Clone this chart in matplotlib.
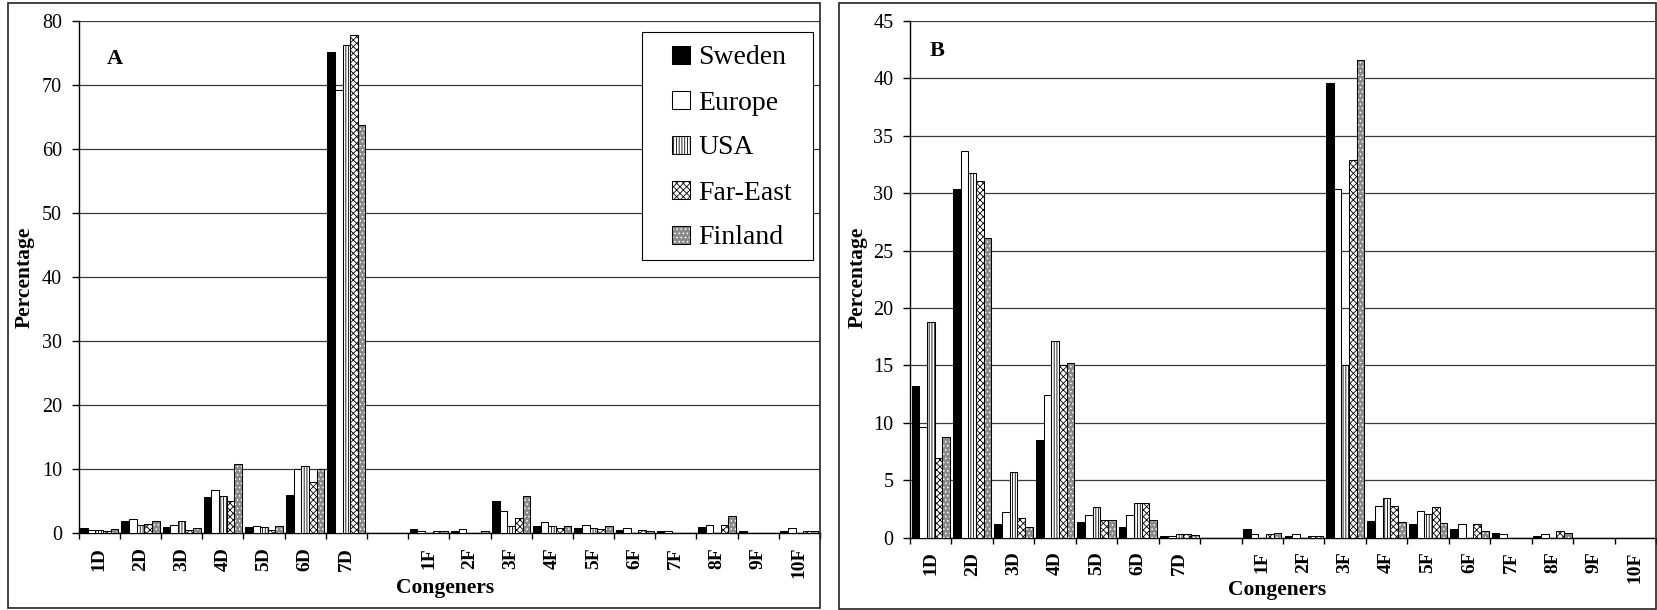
import matplotlib
matplotlib.use("Agg")
import matplotlib.pyplot as plt
import numpy as np
from matplotlib.patches import Rectangle, Patch

plt.rcParams["font.family"] = ["Liberation Serif", "DejaVu Serif"]
plt.rcParams["hatch.linewidth"] = 0.6

# ---- data -------------------------------------------------------------
dioxins = ["1D", "2D", "3D", "4D", "5D", "6D", "7D"]
furans = ["1F", "2F", "3F", "4F", "5F", "6F", "7F", "8F", "9F", "10F"]
regions = ["Sweden", "Europe", "USA", "Far-East", "Finland"]

# Panel A: percentage per congener (dioxins followed by furans)
a_sweden = [0.8, 1.9, 0.9, 5.6, 0.9, 5.9, 75.2,
            0.55, 0.3, 5.0, 1.1, 0.8, 0.5, 0.3, 0.9, 0.3, 0.3]
a_europe = [0.5, 2.2, 1.2, 6.7, 1.1, 10.0, 69.2,
            0.3, 0.55, 3.4, 1.7, 1.3, 0.8, 0.3, 1.3, 0.0, 0.8]
a_usa = [0.5, 1.2, 1.9, 5.8, 0.9, 10.5, 76.3,
         0.0, 0.0, 1.1, 1.1, 0.8, 0.0, 0.0, 0.0, 0.0, 0.0]
a_fareast = [0.3, 1.4, 0.4, 5.0, 0.5, 8.0, 77.8,
             0.3, 0.0, 2.4, 0.8, 0.7, 0.5, 0.0, 1.3, 0.0, 0.3]
a_finland = [0.6, 1.9, 0.8, 10.8, 1.1, 10.0, 63.7,
             0.3, 0.3, 5.8, 1.1, 1.1, 0.3, 0.0, 2.7, 0.0, 0.3]

# Panel B
b_sweden = [13.2, 30.4, 1.2, 8.5, 1.35, 0.9, 0.15,
            0.75, 0.15, 39.6, 1.45, 1.15, 0.75, 0.45, 0.15, 0.0, 0.0]
b_europe = [9.6, 33.7, 2.2, 12.4, 2.0, 2.0, 0.15,
            0.3, 0.3, 30.4, 2.8, 2.35, 1.15, 0.3, 0.3, 0.0, 0.0]
b_usa = [18.8, 31.8, 5.7, 17.1, 2.65, 3.05, 0.3,
         0.0, 0.0, 15.0, 3.5, 2.05, 0.0, 0.0, 0.0, 0.0, 0.0]
b_fareast = [6.9, 31.1, 1.7, 15.0, 1.5, 3.05, 0.3,
             0.3, 0.15, 32.9, 2.8, 2.65, 1.15, 0.0, 0.6, 0.0, 0.0]
b_finland = [8.8, 26.1, 0.9, 15.2, 1.5, 1.5, 0.2,
             0.45, 0.15, 41.6, 1.4, 1.3, 0.6, 0.0, 0.45, 0.0, 0.0]

# ---- layout -----------------------------------------------------------
W, H = 1657, 610
fig = plt.figure(figsize=(W / 100, H / 100), dpi=100)


def fx(px):
    return px / W


def fy(py):
    return 1 - py / H


def frame(x0, y0, x1, y1, **kw):
    fig.patches.append(Rectangle((fx(x0), fy(y1)), fx(x1) - fx(x0), fy(y0) - fy(y1),
                                 transform=fig.transFigure, **kw))


# outer boxes around each panel
frame(8, 3, 820, 608, fill=False, ec="#222222", lw=1.2)
frame(839, 3, 1656, 609, fill=False, ec="#222222", lw=1.2)

axA = fig.add_axes([fx(78.7), fy(533), fx(820) - fx(78.7), fy(21) - fy(533)])
axB = fig.add_axes([fx(910), fy(537.7), fx(1656) - fx(910), fy(21) - fy(537.7)])

labels = dioxins + [""] + furans
positions = np.r_[np.arange(len(dioxins)), np.arange(len(furans)) + len(dioxins) + 1]
bw = 0.185
EDGE = 0.75


def styles():
    return [
        [dict(facecolor="black", edgecolor="black", linewidth=EDGE)],
        [dict(facecolor="white", edgecolor="black", linewidth=EDGE)],
        [dict(facecolor="white", edgecolor="black", linewidth=EDGE, hatch="||||||")],
        [dict(facecolor="white", edgecolor="black", linewidth=EDGE, hatch="xxxxx")],
        [dict(facecolor="#8a8a8a", edgecolor="white", linewidth=0, hatch="...."),
         dict(facecolor="none", edgecolor="black", linewidth=EDGE)],
    ]


def draw(ax, series, ymax, ystep):
    for i, vals in enumerate(series):
        x = positions + (i - 2) * bw
        for st in styles()[i]:
            ax.bar(x, vals, width=bw, align="center", zorder=3, **st)
    ax.set_xlim(-0.5, len(labels) - 0.5)
    ax.set_ylim(0, ymax)
    ax.set_yticks(np.arange(0, ymax + ystep / 2, ystep))
    ax.yaxis.grid(True, color="#3a3a3a", lw=0.9)
    ax.set_axisbelow(True)
    for s in ("top", "right"):
        ax.spines[s].set_visible(False)
    for s in ("left", "bottom"):
        ax.spines[s].set_linewidth(1.0)
        ax.spines[s].set_color("black")
    ax.set_xticks(np.arange(-0.5, len(labels), 1.0))
    ax.set_xticklabels([])
    ax.set_xticks(np.arange(len(labels)), minor=True)
    ax.set_xticklabels(labels, minor=True, rotation=90, fontweight="bold",
                       fontsize=14, va="top", ha="center")
    ax.tick_params(axis="x", which="major", length=4, width=1.0, direction="out")
    ax.tick_params(axis="x", which="minor", length=0, pad=10)
    ax.tick_params(axis="y", length=5, width=1.0, pad=7, labelsize=14.5)


draw(axA, [a_sweden, a_europe, a_usa, a_fareast, a_finland], 80, 10)
draw(axB, [b_sweden, b_europe, b_usa, b_fareast, b_finland], 45, 5)

# panel letters and axis titles
fig.text(fx(115), fy(59), "A", fontsize=16, fontweight="bold", ha="center", va="center")
fig.text(fx(937), fy(51), "B", fontsize=16, fontweight="bold", ha="center", va="center")
for x in (25, 858):
    fig.text(fx(x), fy(277), "Percentage", rotation=90, fontsize=15.5,
             fontweight="bold", ha="center", va="center")
fig.text(fx(445), fy(588), "Congeners", fontsize=15.5, fontweight="bold",
         ha="center", va="center")
fig.text(fx(1277), fy(590), "Congeners", fontsize=15.5, fontweight="bold",
         ha="center", va="center")

# legend with its own box
frame(642, 32, 813, 260, facecolor="white", ec="black", lw=0.8, zorder=4)
handles = []
for st in styles():
    ps = [Patch(**d) for d in st]
    handles.append(ps[0] if len(ps) == 1 else tuple(ps))
fig.legend(handles, regions, loc="center",
           bbox_to_anchor=(fx(732), fy(148)), frameon=False,
           fontsize=20, handlelength=0.62, handleheight=0.62,
           handletextpad=0.3, labelspacing=0.72, borderpad=0.2)

fig.savefig("out.png", dpi=100)
